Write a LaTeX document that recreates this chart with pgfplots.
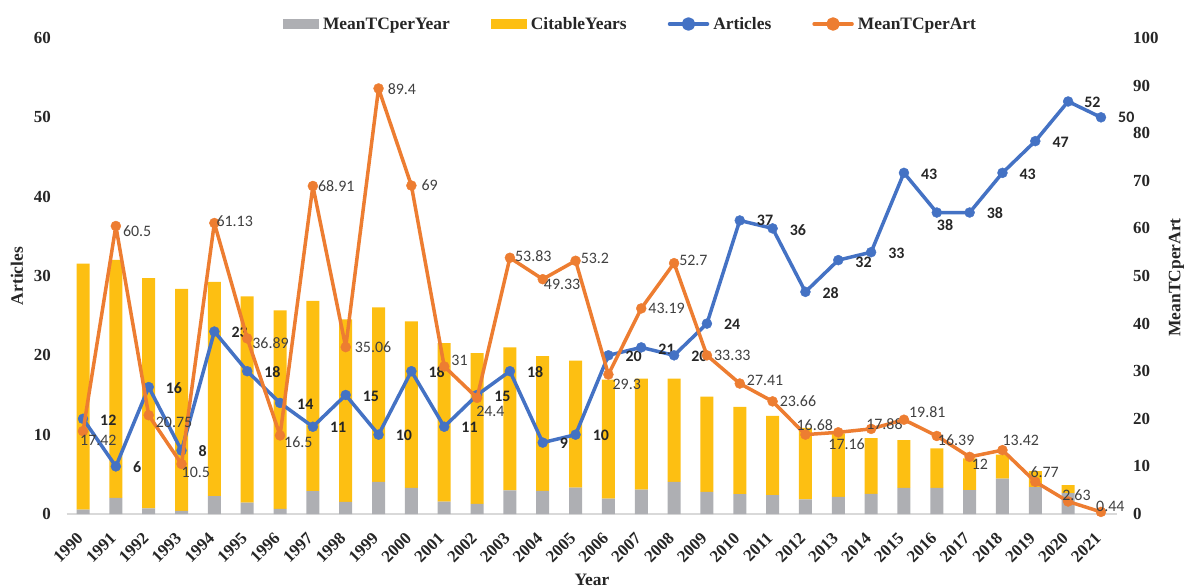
\documentclass[border=0pt]{standalone}
\usepackage{pgfplots}
\pgfplotsset{compat=1.18}
\usepackage{pgfplotstable}
\usepackage{fontspec}
\setmainfont{Liberation Serif}
\newfontfamily\labfont{Carlito}
\definecolor{cgrey}{HTML}{AEAFB3}
\definecolor{cyellow}{HTML}{FDBF12}
\definecolor{cblue}{HTML}{4472C4}
\definecolor{corange}{HTML}{ED7D31}
\definecolor{ctext}{HTML}{262626}
\definecolor{clab}{HTML}{404040}
\definecolor{cbase}{HTML}{D9D9D9}
\newcommand\tickfont{\fontsize{17}{17}\selectfont\bfseries}
\newcommand\titlefont{\fontsize{17.5}{17.5}\selectfont\bfseries}

\pgfplotstableread{
year art tcart tcyear cit adx ays odx oys
1990 12 17.42 0.56 31 17 -1 -3 -9
1991 6 60.5 2.02 30 17 -1 7 -5
1992 16 20.75 0.72 29 17 -1 7 -7
1993 8 10.5 0.38 28 17 -1 0 -8
1994 23 61.13 2.26 27 17 -1 2 2
1995 18 36.89 1.42 26 17 -1 5 -5
1996 14 16.5 0.66 25 17 -1 4 -7
1997 11 68.91 2.87 24 17 -1 5 0
1998 15 35.06 1.52 23 17 -1 9 0
1999 10 89.4 4.06 22 17 -1 9 -1
2000 18 69 3.29 21 17 -1 10 0
2001 11 31 1.55 20 17 -1 7 6
2002 15 24.4 1.28 19 17 -1 -1 -14
2003 18 53.83 2.99 18 17 -1 5 2
2004 9 49.33 2.90 17 17 -1 1 -5
2005 10 53.2 3.33 16 17 -1 5 2
2006 20 29.3 1.95 15 17 -1 4 -10
2007 21 43.19 3.08 14 17 -2 7 0
2008 20 52.7 4.05 13 17 -1 5 3
2009 24 33.33 2.78 12 17 -1 7 0
2010 37 27.41 2.49 11 17 0 7 3
2011 36 23.66 2.37 10 17 -2 7 0
2012 28 16.68 1.85 9 17 -1 -9 9
2013 32 17.16 2.15 8 17 -2 -10 -12
2014 33 17.88 2.55 7 17 -1 -5 5
2015 43 19.81 3.30 6 17 -1 5 8
2016 38 16.39 3.28 5 0 -13 1 -4
2017 38 12 3.00 4 17 -1 2 -7
2018 43 13.42 4.47 3 17 -1 0 10
2019 47 6.77 3.39 2 17 -1 -5 10
2020 52 2.63 2.63 1 16 -1 -6 6
2021 50 0.44 0 0 17 0 -5 6
}\data

\pgfplotsset{
  common/.style={scale only axis, width=1050.8bp, height=476bp, at={(0,0)}, anchor=south west,
    xmin=1989.5, xmax=2021.5, clip=false,
    /pgf/number format/assume math mode=true,
    /pgf/number format/1000 sep={},
    major tick length=0pt,
    tick label style={font=\tickfont, text=ctext},
    every axis plot/.append style={line join=round, line cap=round}},
  barleg/.style={legend image code/.code={\fill[##1] (0bp,-5bp) rectangle (36bp,5bp);}},
  lineleg/.style={legend image code/.code={%
     \draw[##1,mark=none] (0bp,0bp) -- (38bp,0bp);
     \fill[##1] (19bp,0bp) circle[radius=5bp];}},
}

\begin{document}
\begin{tikzpicture}
\useasboundingbox (-66.6bp,-74bp) rectangle (1123.4bp,514bp);
% bars
\begin{axis}[common, ymin=0, ymax=60, ytick={0,10,...,60}, xtick={1990,...,2021},
  ybar stacked, bar width=13bp,
  axis x line*=bottom, axis y line*=left,
  x axis line style={draw=cbase, line width=1.3bp, -},
  y axis line style={draw=none},
  yticklabel style={anchor=east, inner sep=0pt, xshift=-15.6bp},
  xticklabel style={inner sep=0pt, anchor=north east, xshift=-7bp, yshift=-17bp, rotate=45},
  ylabel={Articles}, xlabel={Year},
  every axis y label/.style={at={(axis description cs:-0.0472,0.5)}, anchor=center, rotate=90, font=\titlefont, text=ctext},
  every axis x label/.style={at={(axis description cs:0.5,-0.1387)}, anchor=center, font=\titlefont, text=ctext},
  legend columns=4,
  legend style={at={(axis description cs:0.5376,1.0294)}, anchor=center, draw=none, fill=none,
    font=\titlefont, text=ctext, inner sep=0pt,
    nodes={inner xsep=4bp, inner ysep=2bp},
    /tikz/every even column/.append style={column sep=37bp}},
]
\addplot[fill=cgrey, draw=none, barleg] table[x=year, y=tcyear] {\data};
\addlegendentry{MeanTCperYear}
\addplot[fill=cyellow, draw=none, barleg] table[x=year, y=cit] {\data};
\addlegendentry{CitableYears}
\addlegendimage{lineleg, draw=cblue, fill=cblue, line width=3.5bp}
\addlegendentry{Articles}
\addlegendimage{lineleg, draw=corange, fill=corange, line width=3.5bp}
\addlegendentry{MeanTCperArt}
\end{axis}
% articles line
\begin{axis}[common, ymin=0, ymax=60, hide axis]
\addplot[draw=cblue, line width=3.5bp, line join=round, mark=*, mark size=5bp,
  mark options={solid, fill=cblue, draw=cblue, line width=0.4bp, line join=round},
  nodes near coords, point meta=explicit,
  visualization depends on={\thisrow{adx} \as \labdx},
  visualization depends on={\thisrow{ays} \as \labdy},
  every node near coord/.append style={anchor=west, inner sep=0pt, xshift=\labdx bp, yshift=\labdy bp,
    font=\labfont\bfseries\fontsize{16}{16}\selectfont, text=ctext}]
  table[x=year, y=art, meta=art] {\data};
\end{axis}
% MeanTCperArt line
\begin{axis}[common, ymin=0, ymax=100, ytick={0,10,...,100},
  axis y line*=right, hide x axis, y axis line style={draw=none},
  yticklabel style={anchor=west, inner sep=0pt, xshift=15.6bp},
  ylabel={MeanTCperArt},
  every axis y label/.style={at={(axis description cs:1.0563,0.497)}, anchor=center, rotate=90, font=\titlefont, text=ctext},
]
\addplot[draw=corange, line width=3.5bp, line join=round, mark=*, mark size=5bp,
  mark options={solid, fill=corange, draw=corange, line width=0.4bp, line join=round},
  nodes near coords, point meta=explicit,
  visualization depends on={\thisrow{odx} \as \labdx},
  visualization depends on={\thisrow{oys} \as \labdy},
  every node near coord/.append style={anchor=west, inner sep=0pt, xshift=\labdx bp, yshift=\labdy bp,
    font=\labfont\fontsize{16}{16}\selectfont, text=clab}]
  table[x=year, y=tcart, meta=tcart] {\data};
\end{axis}
\end{tikzpicture}
\end{document}
